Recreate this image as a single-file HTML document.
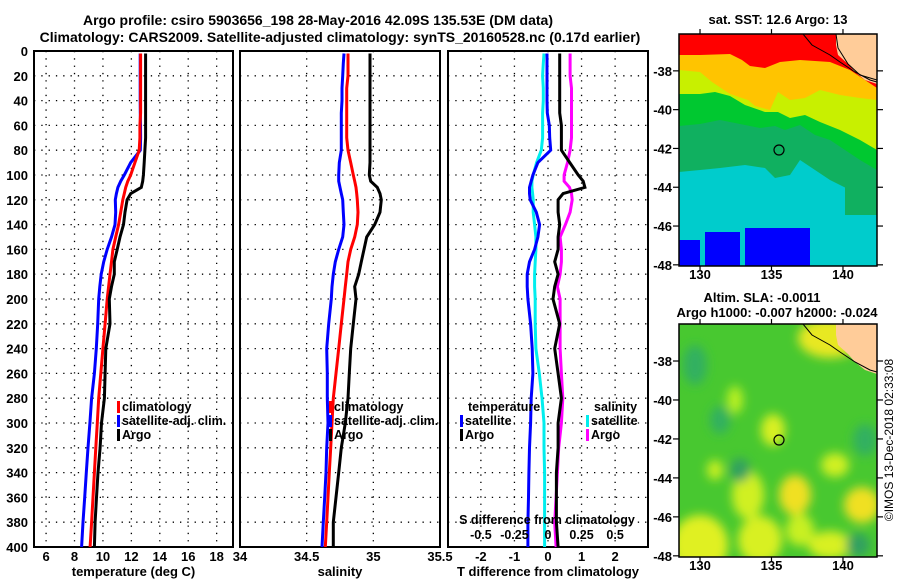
<!DOCTYPE html>
<html><head><meta charset="utf-8"><style>
html,body{margin:0;padding:0;background:#fff;}
svg{display:block;font-family:"Liberation Sans",sans-serif;font-weight:bold;}
</style></head><body>
<svg id="s" width="900" height="580" viewBox="0 0 900 580" xmlns="http://www.w3.org/2000/svg">
<defs>
<filter id="bl" x="-50%" y="-50%" width="200%" height="200%"><feGaussianBlur stdDeviation="5"/></filter>
<clipPath id="c1"><rect x="679" y="34" width="198" height="232"/></clipPath>
<clipPath id="c2"><rect x="679" y="324" width="198" height="233"/></clipPath>
</defs>
<text x="318" y="25" font-size="14" text-anchor="middle">Argo profile: csiro 5903656_198 28-May-2016 42.09S 135.53E (DM data)</text>
<text x="340" y="42" font-size="14" text-anchor="middle">Climatology: CARS2009. Satellite-adjusted climatology: synTS_20160528.nc (0.17d earlier)</text>

<!-- SST map -->
<g clip-path="url(#c1)">
<rect x="679" y="34" width="198" height="232" fill="#00cccc"/>
<path d="M679,34H877V200L865,205L850,190L830,180L815,170L800,160L790,175L775,178L765,168L745,165L720,168L700,170L679,172Z" fill="#10b060"/>
<path d="M679,34H877V170L860,160L845,150L830,140L815,135L800,125L785,130L775,126L760,128L740,124L720,120L700,124L679,126Z" fill="#00c830"/>
<path d="M679,34H877V150L860,140L840,130L820,122L805,115L790,118L778,112L765,112L745,105L730,96L715,92L700,94L679,94Z" fill="#c8f000"/>
<path d="M679,34H877V100L860,98L840,95L820,90L805,98L790,100L778,92L770,110L755,106L748,100L730,94L712,82L700,72L679,70Z" fill="#ffc400"/>
<path d="M679,34H877V88L850,70L830,62L800,60L780,62L765,68L750,66L742,60L730,54L700,55L679,55Z" fill="#ff0000"/>
<path d="M836,34H877V84L865,80L855,72L848,64L838,55L836,45Z" fill="#ffcc99"/>
<path d="M803,34L812,45L830,55L840,62L855,72L870,80L877,82" fill="none" stroke="#000" stroke-width="1"/>
<path d="M836,34L838,48L848,64L860,75L877,80" fill="none" stroke="#000" stroke-width="1"/>
<path d="M705,232H740V266H705Z M745,228H810V266H745Z M679,240H700V266H679Z M718,240H735V258H718Z" fill="#0000ff"/>
<path d="M845,180H877V215H845Z" fill="#10b060"/>
<circle cx="779" cy="150" r="5" fill="none" stroke="#000" stroke-width="1.2"/>
</g>
<rect x="679" y="34" width="198" height="232" fill="none" stroke="#000" stroke-width="1.5"/>
<text x="778" y="24" font-size="13" text-anchor="middle">sat. SST: 12.6 Argo: 13</text>

<!-- SLA map -->
<g clip-path="url(#c2)">
<rect x="679" y="324" width="198" height="233" fill="#48c830"/>
<g filter="url(#bl)">
<ellipse cx="700" cy="545" rx="28" ry="30" fill="#e0f020"/>
<ellipse cx="760" cy="540" rx="22" ry="24" fill="#d8f020"/>
<ellipse cx="795" cy="495" rx="16" ry="20" fill="#f0e020"/>
<ellipse cx="773" cy="430" rx="12" ry="16" fill="#d8f020"/>
<ellipse cx="830" cy="545" rx="22" ry="14" fill="#d8f020"/>
<ellipse cx="862" cy="505" rx="18" ry="18" fill="#f0e020"/>
<ellipse cx="748" cy="495" rx="16" ry="24" fill="#d0f020"/>
<ellipse cx="835" cy="465" rx="14" ry="12" fill="#d0f020"/>
<ellipse cx="830" cy="338" rx="32" ry="20" fill="#e8e820"/>
<ellipse cx="715" cy="470" rx="8" ry="10" fill="#c8f020"/>
<ellipse cx="800" cy="530" rx="14" ry="16" fill="#c8f020"/>
<ellipse cx="735" cy="400" rx="8" ry="14" fill="#b8f020"/>
<ellipse cx="720" cy="420" rx="10" ry="14" fill="#30b060"/>
<ellipse cx="865" cy="440" rx="12" ry="16" fill="#30b060"/>
<ellipse cx="740" cy="470" rx="10" ry="12" fill="#30a060"/>
<ellipse cx="858" cy="545" rx="12" ry="12" fill="#30a060"/>
<ellipse cx="695" cy="365" rx="12" ry="20" fill="#30b060"/>
</g>
<path d="M836,324H877V374L865,370L855,362L848,354L838,345L836,335Z" fill="#ffcc99"/>
<path d="M803,324L812,335L830,345L840,352L855,362L870,370L877,372" fill="none" stroke="#000" stroke-width="1"/>
<circle cx="779" cy="440" r="5" fill="none" stroke="#000" stroke-width="1.2"/>
</g>
<rect x="679" y="324" width="198" height="233" fill="none" stroke="#000" stroke-width="1.5"/>
<text x="762" y="302" font-size="13" text-anchor="middle">Altim. SLA: -0.0011</text>
<text x="777" y="317" font-size="13" text-anchor="middle">Argo h1000: -0.007 h2000: -0.024</text>
<text transform="translate(893,440) rotate(-90)" font-size="12" font-weight="normal" text-anchor="middle">©IMOS 13-Dec-2018 02:33:08</text>
<g id="g"></g>
</svg>
<script>
const depths=[2,10,20,30,40,50,60,70,80,90,100,105,110,115,120,130,140,150,160,170,180,190,200,220,240,260,280,300,320,340,360,380,400];
const argoT=[13.0,13.0,13.0,13.0,13.0,13.0,13.0,13.0,12.95,12.9,12.85,12.8,12.7,11.95,11.7,11.55,11.45,11.2,11.0,10.8,10.8,10.6,10.45,10.5,10.2,10.15,10.1,9.9,9.8,9.65,9.55,9.45,9.4];
const climT=[12.65,12.65,12.65,12.65,12.65,12.65,12.6,12.6,12.55,12.25,11.95,11.75,11.6,11.5,11.4,11.25,11.1,10.9,10.7,10.6,10.5,10.4,10.3,10.15,10.0,9.85,9.7,9.6,9.5,9.4,9.3,9.2,9.1];
const satT=[12.62,12.62,12.62,12.62,12.62,12.63,12.64,12.65,12.63,11.95,11.5,11.25,11.05,10.95,10.87,10.9,10.85,10.6,10.3,10.05,9.88,9.78,9.7,9.63,9.53,9.4,9.2,9.08,8.95,8.83,8.72,8.6,8.5];
const argoS=[34.975,34.975,34.975,34.975,34.975,34.975,34.975,34.975,34.975,34.975,34.97,34.98,35.03,35.05,35.06,35.05,35.01,34.95,34.93,34.91,34.89,34.86,34.87,34.85,34.83,34.82,34.81,34.79,34.76,34.74,34.72,34.70,34.70];
const climS=[34.81,34.81,34.81,34.80,34.80,34.80,34.80,34.80,34.81,34.83,34.85,34.86,34.87,34.875,34.88,34.885,34.88,34.86,34.83,34.81,34.80,34.79,34.78,34.76,34.74,34.72,34.70,34.69,34.68,34.67,34.66,34.65,34.64];
const satS=[34.78,34.775,34.77,34.765,34.765,34.76,34.76,34.76,34.76,34.745,34.74,34.74,34.75,34.76,34.77,34.775,34.78,34.77,34.74,34.715,34.70,34.69,34.685,34.665,34.65,34.655,34.655,34.66,34.65,34.645,34.635,34.625,34.615];
const depthTicks=[0,20,40,60,80,100,120,140,160,180,200,220,240,260,280,300,320,340,360,380,400];
const tTicks=[6,8,10,12,14,16,18];
const sTicks=[34,34.5,35,35.5];
const dTTicks=[-2,-1,0,1,2];
const dSTicks=[-0.5,-0.25,0,0.25,0.5];
const dSLabels=["-0.5","-0.25","0","0.25","0.5"];
const latTicks=[-38,-40,-42,-44,-46,-48];
const lonTicks=[130,135,140];

const NS='http://www.w3.org/2000/svg';
const G=document.getElementById('g');
function mk(tag,attrs,parent){const e=document.createElementNS(NS,tag);for(const k in attrs)e.setAttribute(k,attrs[k]);(parent||G).appendChild(e);return e;}
const Y0=51,Y1=547;
const yD=d=>Y0+(d/400)*(Y1-Y0);
function lin(d0,d1,r0,r1){return v=>r0+(v-d0)/(d1-d0)*(r1-r0);}

const panels=[
 {x0:34,x1:233,sx:lin(5.15,19.15,34,233),ticks:tTicks,labels:tTicks.map(String),title:'temperature (deg C)',name:'temperature-panel'},
 {x0:240,x1:440,sx:lin(34,35.5,240,440),ticks:sTicks,labels:sTicks.map(String),title:'salinity',name:'salinity-panel'},
 {x0:448,x1:648,sx:lin(-2.98,2.98,448,648),ticks:dTTicks,labels:dTTicks.map(String),title:'T difference from climatology',name:'difference-panel'}
];
panels.forEach((p,i)=>{
  const g=mk('g',{});
  
  
  depthTicks.forEach(d=>{
    if(d>0&&d<400){const l=mk('line',{x1:p.x0,x2:p.x1,y1:yD(d),y2:yD(d),stroke:'#000','stroke-width':1.3,'stroke-dasharray':'1.3,6'},g);
    
    }
  });
  p.ticks.forEach((t,k)=>{
    const x=p.sx(t);
    if(x>p.x0+2&&x<p.x1-2){const l=mk('line',{x1:x,x2:x,y1:Y0,y2:Y1,stroke:'#000','stroke-width':1.3,'stroke-dasharray':'1.3,6'},g);
    
    }
    const tx=mk('text',{x:x,y:561,'font-size':13,'text-anchor':'middle'},g);
    tx.textContent=p.labels[k];
    
    
  });
  const tt=mk('text',{x:(p.x0+p.x1)/2,y:576,'font-size':13,'text-anchor':'middle'},g);
  tt.textContent=p.title;
  
  
  const fr=mk('rect',{x:p.x0,y:Y0,width:p.x1-p.x0,height:Y1-Y0,fill:'none',stroke:'#000','stroke-width':2},g);
  
  
});
depthTicks.forEach(d=>{
  const t=mk('text',{x:28,y:yD(d)+5,'font-size':13,'text-anchor':'end'});
  t.textContent=String(d);
  
  
});
function line(vals,sx,color,name){
  const pts=vals.map((v,i)=>sx(v).toFixed(1)+','+yD(depths[i]).toFixed(1)).join(' ');
  const pl=mk('polyline',{points:pts,fill:'none',stroke:color,'stroke-width':3,'stroke-linejoin':'miter'});
  
  
}
const P=panels;
line(satT,P[0].sx,'#0000ff','temperature-satellite-line');
line(climT,P[0].sx,'#ff0000','temperature-climatology-line');
line(argoT,P[0].sx,'#000','temperature-argo-line');
line(satS,P[1].sx,'#0000ff','salinity-satellite-line');
line(climS,P[1].sx,'#ff0000','salinity-climatology-line');
line(argoS,P[1].sx,'#000','salinity-argo-line');
const sxS=lin(-0.745,0.745,448,648);
line(satS.map((v,i)=>v-climS[i]),sxS,'#00eeee','s-diff-satellite-line');
line(argoS.map((v,i)=>v-climS[i]),sxS,'#ff00ff','s-diff-argo-line');
line(satT.map((v,i)=>v-climT[i]),P[2].sx,'#0000ff','t-diff-satellite-line');
line(argoT.map((v,i)=>v-climT[i]),P[2].sx,'#000','t-diff-argo-line');
const st=mk('text',{x:547,y:524,'font-size':12.5,'text-anchor':'middle'});
st.textContent='S difference from climatology';


dSTicks.forEach((t,k)=>{
  const tx=mk('text',{x:sxS(t),y:539,'font-size':12.5,'text-anchor':'middle'});
  tx.textContent=dSLabels[k];
  
  
});
function leg(x,y,color,label,name){
  const r=mk('rect',{x:x,y:y-10,width:3,height:12,fill:color});
  
  
  const t=mk('text',{x:x+5,y:y,'font-size':12.5});
  t.textContent=label;
  
  
}
function ltext(x,y,label,name){const t=mk('text',{x:x,y:y,'font-size':12.5});t.textContent=label;
  
  }
leg(117,411,'#ff0000','climatology','legend-climatology');
leg(117,425,'#0000ff','satellite-adj. clim.','legend-satellite-adj');
leg(117,439,'#000','Argo','legend-argo');
leg(329,411,'#ff0000','climatology','legend2-climatology');
leg(329,425,'#0000ff','satellite-adj. clim.','legend2-satellite-adj');
leg(329,439,'#000','Argo','legend2-argo');
ltext(468,411,'temperature','legend-temperature-heading');
leg(460,425,'#0000ff','satellite','legend-t-satellite');
leg(460,439,'#000','Argo','legend-t-argo');
ltext(594,411,'salinity','legend-salinity-heading');
leg(586,425,'#00eeee','satellite','legend-s-satellite');
leg(586,439,'#ff00ff','Argo','legend-s-argo');
const latY1=lin(-36.1,-48.06,34,266), latY2=lin(-36.1,-48.06,324,557), lonX=lin(128.53,142.38,679,877);
[[latY1,34,266,279],[latY2,324,557,570]].forEach(([ly,top,bot,lab])=>{
  latTicks.forEach(l=>{
    const y=ly(l);
    mk('line',{x1:673,x2:679,y1:y,y2:y,stroke:'#000','stroke-width':1.2});
    mk('line',{x1:877,x2:883,y1:y,y2:y,stroke:'#000','stroke-width':1.2});
    const t=mk('text',{x:672,y:y+5,'font-size':13,'text-anchor':'end'});
    t.textContent=String(l);
    
    
  });
  lonTicks.forEach(l=>{
    const x=lonX(l);
    mk('line',{x1:x,x2:x,y1:top-5,y2:top,stroke:'#000','stroke-width':1.2});
    mk('line',{x1:x,x2:x,y1:bot,y2:bot+5,stroke:'#000','stroke-width':1.2});
    const t=mk('text',{x:x,y:lab,'font-size':13,'text-anchor':'middle'});
    t.textContent=String(l);
    
    
  });
});
</script>
</body></html>
